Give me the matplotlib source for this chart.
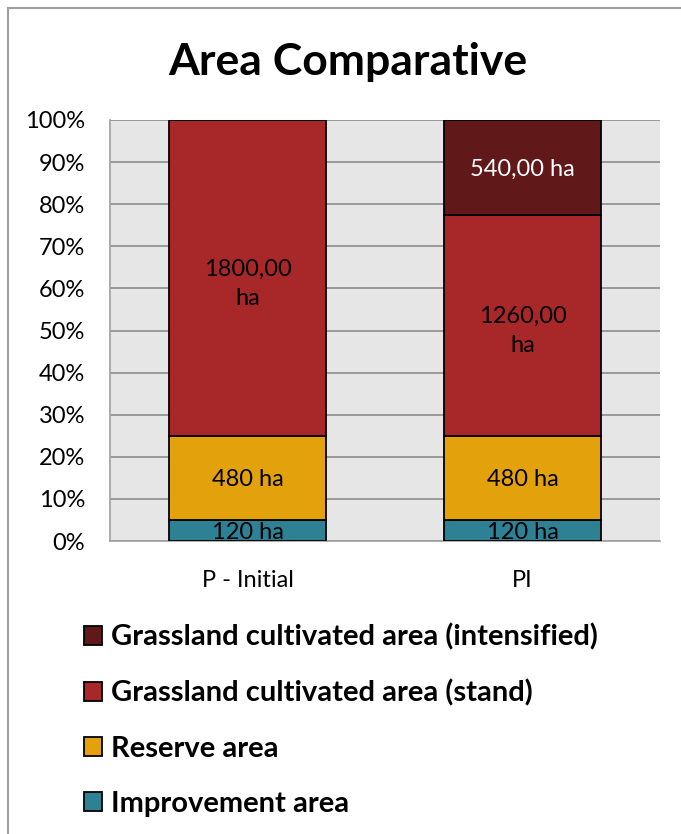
import matplotlib.pyplot as plt
import numpy as np
from matplotlib.patches import Rectangle

plt.rcParams['font.family'] = ['Lato', 'DejaVu Sans']

# Data (ha)
categories = ['P - Initial', 'PI']
series = ['Improvement area', 'Reserve area',
          'Grassland cultivated area (stand)', 'Grassland cultivated area (intensified)']
improvement = [120, 120]
reserve = [480, 480]
stand = [1800, 1260]
intensified = [0, 540]
labels = [['120 ha', '120 ha'],
          ['480 ha', '480 ha'],
          ['1800,00\nha', '1260,00\nha'],
          ['', '540,00 ha']]
colors = ['#2E8195', '#E3A20B', '#A8282A', '#611818']
text_colors = ['black', 'black', 'black', 'white']

values = np.array([improvement, reserve, stand, intensified], dtype=float)
pct = values / values.sum(axis=0) * 100

fig = plt.figure(figsize=(6.81, 8.34), dpi=100)
ax = fig.add_axes([110 / 681, 1 - 541 / 834, 550 / 681, 421 / 834])
ax.set_facecolor('#E6E6E6')

x = np.arange(len(categories))
bottom = np.zeros(len(categories))
for i in range(len(series)):
    ax.bar(x, pct[i], 0.57, bottom=bottom, color=colors[i],
           edgecolor='black', linewidth=1.3, label=series[i], zorder=3)
    for j in range(len(categories)):
        if labels[i][j]:
            ax.text(x[j], bottom[j] + pct[i][j] / 2, labels[i][j], ha='center',
                    va='center_baseline', fontsize=17, color=text_colors[i],
                    linespacing=1.45, zorder=4)
    bottom += pct[i]

ax.set_xlim(-0.5, 1.5)
ax.set_ylim(0, 100)
ax.set_yticks(np.arange(0, 101, 10))
ax.set_yticklabels(['%d%%' % v for v in range(0, 101, 10)])
ax.set_xticks(x)
ax.set_xticklabels(categories)
ax.tick_params(axis='both', length=0, labelsize=17)
ax.tick_params(axis='y', pad=18)
ax.tick_params(axis='x', pad=21)
ax.yaxis.grid(True, color='#8C8C8C', linewidth=1.2, zorder=0)
ax.set_axisbelow(True)
for s in ['top', 'right']:
    ax.spines[s].set_visible(False)
ax.spines['left'].set_color('#A0A0A0')
ax.spines['bottom'].set_color('#A0A0A0')
ax.spines['left'].set_linewidth(1.2)
ax.spines['bottom'].set_linewidth(1.2)

fig.text(348 / 681, 1 - 62 / 834, 'Area Comparative', ha='center', va='center',
         fontsize=32, fontweight='bold')

handles, hlabels = ax.get_legend_handles_labels()
fig.legend(handles[::-1], hlabels[::-1], loc='upper left',
           bbox_to_anchor=(58 / 681, 1 - 597 / 834), frameon=False,
           prop={'size': 21, 'weight': 'bold'}, handlelength=0.62,
           handleheight=0.62, handletextpad=0.3, labelspacing=1.0)

fig.patches.append(Rectangle((8 / 681, -0.1), 1.2, 1 - 8 / 834 + 0.1,
                             transform=fig.transFigure, fill=False,
                             edgecolor='#A0A0A0', linewidth=1.5))

fig.savefig('out.png', dpi=100)
